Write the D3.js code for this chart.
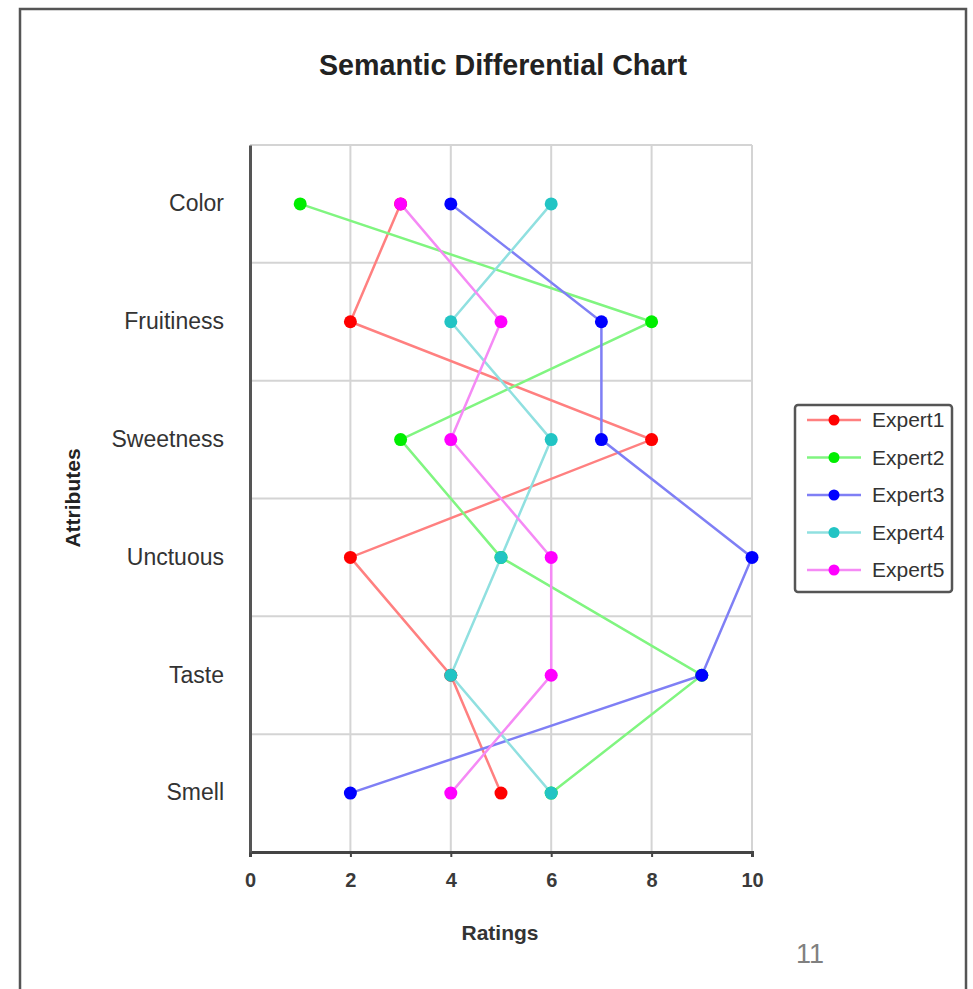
<!DOCTYPE html>
<html>
<head>
<meta charset="utf-8">
<script src="https://cdn.jsdelivr.net/npm/d3@7"></script>
<style>
  body { margin: 0; background: #fff; }
  text { font-family: "Liberation Sans", Arial, sans-serif; }
</style>
</head>
<body>
<script>
var attributes = ["Color", "Fruitiness", "Sweetness", "Unctuous", "Taste", "Smell"];
var experts = ["Expert1", "Expert2", "Expert3", "Expert4", "Expert5"];
var colors = ["#ff0000", "#00ee00", "#0000ff", "#22c4c4", "#ff00ff"];
var lineColors = ["#ff8080", "#80f580", "#7f7ff5", "#90e0e0", "#f58af5"];
var expert1 = [3, 2, 8, 2, 4, 5];
var expert2 = [1, 8, 3, 5, 9, 6];
var expert3 = [4, 7, 7, 10, 9, 2];
var expert4 = [6, 4, 6, 5, 4, 6];
var expert5 = [3, 5, 4, 6, 6, 4];
var xTicks = [0, 2, 4, 6, 8, 10];

var series = [expert1, expert2, expert3, expert4, expert5];

var W = 973, H = 989;
var svg = d3.select("body").append("svg").attr("width", W).attr("height", H);

// outer frame (bottom edge runs off the page)
svg.append("rect").attr("x", 20).attr("y", 9).attr("width", 946).attr("height", 1000)
  .attr("fill", "none").attr("stroke", "#555").attr("stroke-width", 2.5);

var pLeft = 250, pRight = 752, pTop = 145, pBottom = 852;

var x = d3.scaleLinear().domain([0, 10]).range([pLeft, pRight]);
var y = d3.scaleBand().domain(attributes).range([pTop, pBottom]);

var g = svg.append("g");

// grid
g.selectAll(".vg").data(xTicks.slice(1)).enter().append("line")
  .attr("x1", function(d) { return x(d); }).attr("x2", function(d) { return x(d); })
  .attr("y1", pTop).attr("y2", pBottom)
  .attr("stroke", "#d4d4d4").attr("stroke-width", 2);
g.selectAll(".hg").data(attributes).enter().append("line")
  .attr("x1", pLeft).attr("x2", pRight)
  .attr("y1", function(d) { return y(d); }).attr("y2", function(d) { return y(d); })
  .attr("stroke", "#d4d4d4").attr("stroke-width", 2);

// axes
var xAxis = d3.axisBottom(x).tickValues(xTicks).tickSize(5).tickPadding(16);
var gx = svg.append("g").attr("transform", "translate(0," + pBottom + ")").call(xAxis);
gx.select(".domain").attr("stroke", "#444").attr("stroke-width", 3);
gx.selectAll(".tick line").attr("stroke", "#444").attr("stroke-width", 2);
gx.selectAll(".tick text").attr("font-size", 20).attr("font-weight", "bold").attr("fill", "#3a3a3a")
  .attr("font-family", null);

var yAxis = d3.axisLeft(y).tickSize(0).tickPadding(26);
var gy = svg.append("g").attr("transform", "translate(" + pLeft + ",0)").call(yAxis);
gy.select(".domain").attr("stroke", "#555").attr("stroke-width", 3);
gy.selectAll(".tick text").attr("font-size", 23).attr("fill", "#333")
  .attr("font-family", null);

// lines
var line = d3.line()
  .x(function(d) { return x(d[1]); })
  .y(function(d) { return y(d[0]) + y.bandwidth() / 2; });

series.forEach(function(vals, i) {
  var pts = attributes.map(function(a, j) { return [a, vals[j]]; });
  g.append("path").datum(pts).attr("d", line)
    .attr("fill", "none").attr("stroke", lineColors[i]).attr("stroke-width", 2.5);
});
series.forEach(function(vals, i) {
  g.selectAll(".pt" + i).data(attributes).enter().append("circle")
    .attr("cx", function(a, j) { return x(vals[j]); })
    .attr("cy", function(a) { return y(a) + y.bandwidth() / 2; })
    .attr("r", 6.5).attr("fill", colors[i]);
});

// title & labels
svg.append("text").attr("x", 503).attr("y", 75).attr("text-anchor", "middle")
  .attr("font-size", 29).attr("font-weight", "bold").attr("fill", "#222")
  .attr("textLength", 368).attr("lengthAdjust", "spacingAndGlyphs")
  .text("Semantic Differential Chart");
svg.append("text").attr("x", 500).attr("y", 940).attr("text-anchor", "middle")
  .attr("font-size", 21).attr("font-weight", "bold").attr("fill", "#333")
  .text("Ratings");
svg.append("text").attr("transform", "translate(80,498) rotate(-90)").attr("text-anchor", "middle")
  .attr("font-size", 21).attr("font-weight", "bold").attr("fill", "#222")
  .text("Attributes");

// legend
var lg = svg.append("g").attr("transform", "translate(795,405)");
lg.append("rect").attr("width", 157).attr("height", 187).attr("rx", 3)
  .attr("fill", "#fff").attr("stroke", "#555").attr("stroke-width", 2.5);
var items = lg.selectAll(".li").data(experts).enter().append("g")
  .attr("transform", function(d, i) { return "translate(0," + (15 + i * 37.5) + ")"; });
items.append("line").attr("x1", 12).attr("x2", 66)
  .attr("stroke", function(d, i) { return lineColors[i]; }).attr("stroke-width", 2.5);
items.append("circle").attr("cx", 39).attr("r", 5.5)
  .attr("fill", function(d, i) { return colors[i]; });
items.append("text").attr("x", 77).attr("y", 7).attr("font-size", 21).attr("fill", "#333")
  .text(function(d) { return d; });

// page number
svg.append("text").attr("x", 810).attr("y", 963).attr("text-anchor", "middle")
  .attr("font-size", 27).attr("fill", "#808080")
  .attr("font-family", "Open Sans, Liberation Sans, sans-serif").text("11");
</script>
</body>
</html>
